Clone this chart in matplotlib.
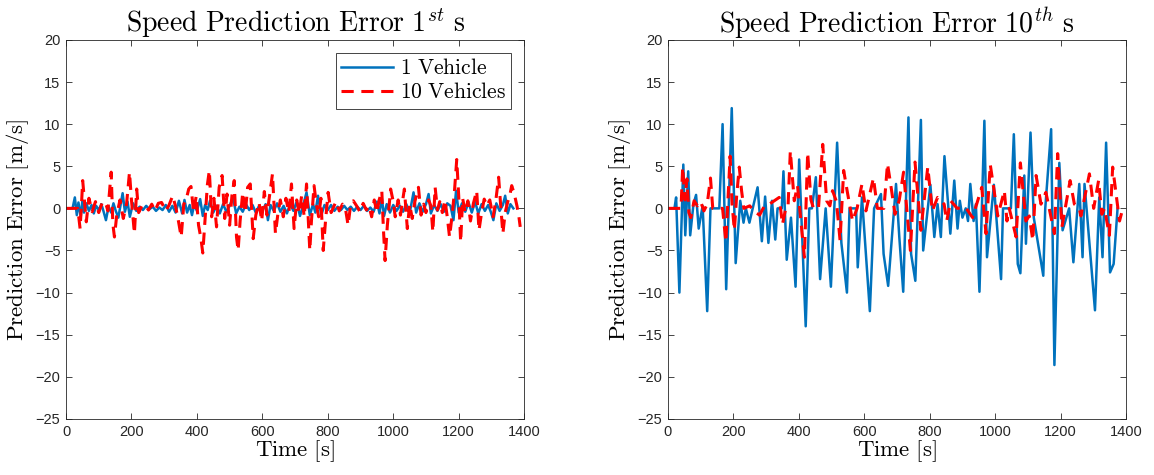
import numpy as np
import matplotlib
matplotlib.use("Agg")
import matplotlib.pyplot as plt

plt.rcParams['mathtext.fontset'] = 'cm'
plt.rcParams['font.family'] = ['Liberation Sans', 'DejaVu Sans']

# --- 1st second prediction error ---
t1_one = [0, 20, 27, 33, 38, 45, 50, 55, 62, 70,
          78, 85, 92, 100, 108, 115, 122, 130, 138, 145,
          152, 160, 167, 173, 180, 188, 195, 205, 215, 225,
          235, 245, 255, 265, 275, 285, 295, 305, 315, 325,
          335, 345, 355, 362, 370, 378, 385, 392, 400, 410,
          418, 425, 433, 440, 450, 460, 470, 480, 490, 500,
          510, 520, 530, 540, 550, 560, 570, 580, 590, 600,
          610, 617, 625, 635, 645, 655, 665, 675, 685, 695,
          705, 715, 725, 735, 745, 755, 762, 770, 780, 790,
          800, 810, 820, 830, 840, 850, 860, 870, 880, 890,
          900, 910, 920, 930, 940, 950, 958, 965, 972, 980,
          990, 1000, 1010, 1020, 1030, 1040, 1050, 1062, 1070, 1080,
          1090, 1100, 1108, 1115, 1125, 1135, 1145, 1155, 1165, 1175,
          1184, 1192, 1200, 1210, 1220, 1230, 1240, 1250, 1260, 1270,
          1280, 1290, 1298, 1306, 1315, 1325, 1335, 1342, 1350, 1358,
          1367]
e1_one = [0, 0, 1.3, -0.8, 0.7, -1.0, 0.9, -0.5, 0.6, -0.3,
          0.4, -0.6, 0.3, -0.2, 0.5, -0.4, -1.4, 0.2, -0.5, 0.6,
          -0.3, -1.1, 0.5, 1.8, -0.4, 0.8, -1.0, 0.6, -0.3, 0.2,
          -0.2, 0.3, -0.1, 0.2, -0.3, 0.1, -0.2, 0.4, -0.4, 0.3,
          -0.5, 0.9, -0.6, 1.0, -0.5, 0.4, -0.8, 0.5, -0.3, 1.1,
          -0.9, 0.4, -0.2, 0.9, -0.5, 0.3, -0.6, 0.5, -0.4, 0.3,
          1.3, -0.6, 0.2, -0.4, 0.5, -0.2, 0.4, -0.5, 0.3, -0.3,
          0.5, -1.4, 0.4, -0.3, 0.6, -0.4, 0.3, -0.6, 0.5, -0.3,
          0.8, -0.9, 0.4, 1.9, -0.8, 0.5, -0.5, 1.5, -0.8, 0.4,
          -0.2, 0.4, -0.3, 0.2, -0.2, 0.3, -0.2, 0.2, -0.3, 0.2,
          -0.2, 0.3, -0.3, 0.1, -0.4, 0.8, -0.6, 1.2, -0.9, 0.5,
          -0.5, 0.4, -0.3, 0.3, -0.4, 0.5, -0.6, 1.9, -0.5, 0.6,
          -0.4, 0.5, 1.7, -0.6, 0.4, -0.3, 0.5, -0.4, 0.6, 0.3,
          -1.4, 2.1, -0.5, 0.6, -0.4, 0.7, -0.5, 0.8, -0.6, 0.5,
          -0.3, 0.4, -0.4, -1.4, 0.6, -0.3, 0.4, 1.5, -0.6, 0.5,
          0.0]

t1_ten = [0, 36, 43, 48, 51, 55, 62, 70, 80, 90,
          100, 110, 120, 128, 138, 143, 148, 155, 165, 175,
          185, 194, 200, 209, 216, 222, 232, 242, 252, 262,
          272, 282, 292, 305, 315, 326, 335, 344, 352, 360,
          367, 375, 382, 390, 398, 405, 412, 418, 425, 432,
          438, 445, 452, 460, 468, 477, 485, 492, 500, 507,
          514, 521, 526, 532, 540, 548, 555, 563, 572, 580,
          590, 598, 606, 614, 622, 631, 640, 648, 655, 664,
          672, 681, 689, 697, 705, 713, 720, 728, 735, 745,
          750, 758, 765, 772, 779, 786, 793, 801, 810, 818,
          825, 835, 845, 853, 862, 870, 878, 888, 898, 908,
          918, 926, 934, 942, 950, 957, 965, 970, 975, 982,
          992, 1000, 1006, 1015, 1022, 1034, 1043, 1050, 1058, 1066,
          1077, 1085, 1093, 1100, 1108, 1115, 1121, 1128, 1135, 1142,
          1150, 1158, 1165, 1172, 1180, 1187, 1194, 1200, 1206, 1212,
          1220, 1228, 1236, 1245, 1255, 1262, 1270, 1278, 1286, 1295,
          1305, 1313, 1322, 1328, 1335, 1342, 1350, 1356, 1362, 1370,
          1378, 1384, 1388]
e1_ten = [0, 0, -2.4, 1.0, 3.3, 1.5, -1.6, 1.2, -0.4, 0.8,
          -0.5, 0.6, 0.8, -0.3, 4.3, -1.8, -3.4, -0.8, 1.0, -1.2,
          0.5, 4.3, 1.0, -3.0, 2.3, -0.5, 0.3, 0.4, -0.2, 0.5,
          -0.3, 0.6, 0.7, -0.3, 0.4, 1.5, 0.2, -1.6, -3.4, 0.5,
          1.0, 2.3, 2.6, -0.5, 1.5, -2.0, -3.5, -5.3, -1.2, 2.8,
          4.5, -1.0, 1.2, -2.2, 2.5, 3.9, -1.2, 1.7, -2.0, 1.5,
          3.3, -3.4, -5.0, -1.5, 1.9, -0.5, 2.5, 2.9, -3.6, -0.8,
          0.7, -1.5, 2.0, -0.8, 1.5, 4.1, -3.0, -0.5, 1.0, -1.0,
          1.2, -0.5, 2.9, -2.4, 1.0, -0.6, 1.5, -1.0, 2.9, -5.0,
          -1.5, 2.7, 0.5, -1.0, 1.2, -5.0, -1.5, 1.9, -0.5, 0.2,
          0.8, -0.3, 0.5, 0.2, -2.0, 0.5, 0.9, 0.3, -0.4, 0.6,
          -0.2, 0.3, -1.0, 1.0, -0.5, 1.0, 2.1, -2.5, -6.2, -2.0,
          2.3, 0.8, -1.0, 1.0, -0.8, 2.3, -2.4, 0.5, -1.2, 0.8,
          2.5, -0.8, 0.5, -0.5, 1.0, 0.3, -2.8, 2.5, -0.2, 0.8,
          -0.5, 1.0, -1.0, -3.4, -0.8, 2.0, 5.8, 1.5, -4.0, 1.2,
          -0.5, 0.9, -1.5, 0.6, 2.1, -2.6, -0.5, 1.1, 0.3, 1.0,
          -1.0, 0.8, 3.7, 0.5, -3.0, -0.5, 0.8, 1.5, 2.7, 1.7,
          0.3, -1.0, -2.2]

# --- 10th second prediction error ---
t10_one = [0, 20, 25, 35, 47, 53, 62, 68, 78, 86,
           94, 106, 120, 130, 157, 167, 178, 195, 207, 221,
           231, 238, 249, 262, 274, 287, 297, 307, 318, 328,
           335, 348, 353, 363, 376, 390, 401, 421, 432, 440,
           452, 465, 482, 498, 517, 530, 547, 555, 575, 580,
           593, 617, 630, 651, 659, 673, 697, 707, 719, 735,
           743, 756, 773, 780, 802, 814, 824, 834, 845, 863,
           875, 885, 892, 900, 910, 917, 924, 934, 941, 952,
           967, 975, 996, 1018, 1024, 1048, 1057, 1069, 1077, 1089,
           1094, 1108, 1118, 1147, 1153, 1171, 1181, 1196, 1206, 1216,
           1226, 1239, 1257, 1267, 1273, 1305, 1318, 1328, 1339, 1351,
           1362, 1374]
e10_one = [0, 0, 1.3, -10.0, 5.2, -3.2, 4.4, -3.2, 0.5, 1.6,
           -2.4, 0.3, -12.2, 0, 0, 10.0, -9.6, 11.9, -6.5, 0.9,
           -1.7, 0, -1.7, 0.5, 2.5, -3.9, 1.4, -4.1, 0.9, -3.7,
           0, 0, 4.4, -6.1, -1.1, -9.3, 5.8, -14.0, 0, 0,
           3.7, -8.4, 0, -9.3, 7.8, -4.1, -10.0, 0, 0, -7.0,
           1.3, -12.2, 0, 1.7, -5.4, -9.2, 2.9, -3.4, -9.9, 10.8,
           -5.4, -8.6, 10.5, -5.0, 2.8, -3.4, 0.5, -3.4, 6.2, -3.0,
           3.3, -2.4, 0.9, -1.1, 0, -1.5, 2.9, -1.5, 0.5, -9.9,
           10.4, -5.8, 2.8, -8.4, 0, 0, 8.8, -6.6, -7.7, 3.9,
           -4.2, 9.0, -1.1, -8.0, 0, 9.4, -18.6, 5.4, -2.6, -1.3,
           0, -6.4, 2.9, -5.8, 2.9, -12.1, 1.3, -5.8, 7.8, -7.6,
           -6.6, 0]

t10_ten = [0, 40, 45, 52, 58, 64, 70, 80, 90, 100,
           110, 120, 130, 137, 167, 177, 190, 196, 203, 210,
           218, 225, 232, 250, 262, 280, 295, 310, 325, 340,
           350, 360, 367, 374, 386, 396, 417, 427, 437, 445,
           460, 473, 485, 495, 503, 515, 526, 537, 548, 564,
           578, 593, 605, 628, 640, 660, 671, 682, 694, 707,
           720, 741, 755, 773, 794, 808, 824, 844, 852, 864,
           884, 910, 931, 959, 972, 985, 1008, 1028, 1036, 1043,
           1064, 1077, 1094, 1104, 1115, 1125, 1140, 1155, 1181, 1191,
           1204, 1229, 1242, 1257, 1262, 1288, 1301, 1316, 1326, 1334,
           1349, 1359, 1380, 1390]
e10_ten = [0, 0, 4.9, 1.0, 3.5, -0.5, -1.1, 0.9, 0.3, 0.8,
           -0.3, 0.5, 3.6, 0, 0, -4.0, 6.2, 0.5, -2.6, 1.5,
           4.9, 2.1, 0, 0.3, -0.3, -0.8, 0.3, 0.5, 0.9, 1.3,
           -1.9, 0, 0.2, 6.8, 0.9, 2.7, -5.8, 6.6, 1.0, 0,
           0, 7.6, 0.9, 0.3, 2.1, 0.8, -3.8, 4.5, 2.0, -1.5,
           0, 2.9, -0.3, 3.6, 0, 0, 5.3, 2.5, -0.7, 1.0,
           4.3, -5.0, 5.5, -2.6, 4.9, -0.3, 1.3, 0.5, -1.5, 0.9,
           0, 0.1, -1.1, 2.5, -3.0, 5.2, -0.9, 2.1, -1.5, 0,
           -3.4, 5.4, -1.5, -0.9, -3.8, 3.9, 0.5, 1.9, -3.0, 6.5,
           -2.2, 3.3, 0.5, 0, -0.9, 4.1, 0, 3.3, -0.7, 0,
           -3.2, 4.9, -1.5, 0]

titles = [r'$\mathrm{Speed\ Prediction\ Error\ }1^{st}\mathrm{\ s}$',
          r'$\mathrm{Speed\ Prediction\ Error\ }10^{th}\mathrm{\ s}$']
labels = [r'$\mathrm{1\ Vehicle}$', r'$\mathrm{10\ Vehicles}$']

blue = '#0072BD'
red = '#FF0000'
axcol = '#262626'

fig = plt.figure(figsize=(11.54, 4.75), dpi=100)
ax1 = fig.add_axes([0.0572, 0.118, 0.397, 0.798])
ax2 = fig.add_axes([0.5788, 0.118, 0.397, 0.798])

series = [(t1_one, e1_one, t1_ten, e1_ten), (t10_one, e10_one, t10_ten, e10_ten)]
for ax, (ta, ea, tb, eb), title in zip([ax1, ax2], series, titles):
    ax.plot(ta, ea, color=blue, lw=1.8, label=labels[0])
    ax.plot(tb, eb, color=red, lw=2.2, ls=(0, (4, 2.5)), label=labels[1])
    ax.set_xlim(0, 1400)
    ax.set_ylim(-25, 20)
    ax.set_xticks(np.arange(0, 1401, 200))
    ax.set_yticks(np.arange(-25, 21, 5))
    ax.tick_params(direction='in', top=True, right=True, length=4, width=0.6,
                   colors=axcol, labelsize=10.5, pad=4)
    for sp in ax.spines.values():
        sp.set_color(axcol)
        sp.set_linewidth(0.6)
    ax.set_title(title, fontsize=20, pad=5)
    ax.set_xlabel(r'$\mathrm{Time\ [s]}$', fontsize=16.5, labelpad=0)
    ax.set_ylabel(r'$\mathrm{Prediction\ Error\ [m/s]}$', fontsize=16.5, labelpad=3)

leg = ax1.legend(loc='upper right', fontsize=15.5, fancybox=False, framealpha=1,
                 edgecolor=axcol, handlelength=2.4, borderpad=0.25, labelspacing=0.15,
                 handletextpad=0.3, borderaxespad=0.6)
leg.get_frame().set_linewidth(0.6)

fig.savefig('out.png', dpi=100)
